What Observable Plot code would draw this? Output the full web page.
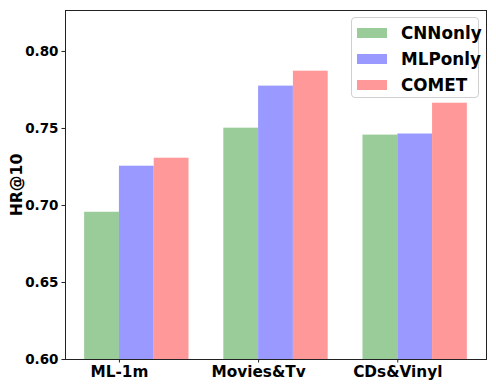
<!DOCTYPE html>
<html><head><meta charset="utf-8">
<script src="https://cdn.jsdelivr.net/npm/d3@7"></script>
<script src="https://cdn.jsdelivr.net/npm/@observablehq/plot@0.6"></script>
<style>
body{margin:0;background:#fff;}
#wrap{position:relative;width:496px;height:388px;font-family:"DejaVu Sans",sans-serif;}
#wrap svg{font-family:"DejaVu Sans",sans-serif;font-weight:bold;}
#wrap svg [aria-label="y-axis tick label"]{font-size:13.5px !important;font-weight:bold;}
#wrap svg [aria-label="x-axis tick label"]{font-size:15.3px !important;font-weight:bold;}
#wrap svg [aria-label="y-axis label"]{font-size:15.7px !important;font-weight:bold;}
.legend{position:absolute;left:351px;top:17px;width:126px;height:79px;border:1px solid #d0d0d0;border-radius:4px;background:rgba(255,255,255,0.8);}
.legend .row{position:absolute;left:5px;height:10px;}
.legend .sw{position:absolute;left:0;top:0;width:30px;height:10px;}
.legend .lb{position:absolute;left:44px;top:-8px;font-size:16.8px;font-weight:bold;color:#000;white-space:nowrap;line-height:26px;}
</style>
</head><body><div id="wrap"></div>
<script>
const categories = ["ML-1m", "Movies&Tv", "CDs&Vinyl"];
const seriesNames = ["CNNonly", "MLPonly", "COMET"];
const cnnOnly = [0.6956, 0.7502, 0.7457];
const mlpOnly = [0.7255, 0.7775, 0.7464];
const comet = [0.7307, 0.7872, 0.7664];
const seriesColors = ["#99cc99", "#9999ff", "#ff9999"];
const yTicks = [0.60, 0.65, 0.70, 0.75, 0.80];
const yDomain = [0.60, 0.8266];
const barWidth = 0.25;

const data = [];
[cnnOnly, mlpOnly, comet].forEach((vals, s) => {
  vals.forEach((v, i) => {
    const x1 = i + (s - 1.5) * barWidth;
    data.push({category: categories[i], series: seriesNames[s], x1, x2: x1 + barWidth, value: v});
  });
});
const tickPos = categories.map((c, i) => i - barWidth / 2);

const chart = Plot.plot({
  width: 496,
  height: 388,
  marginLeft: 65,
  marginRight: 10,
  marginTop: 10,
  marginBottom: 29,
  x: {domain: [-0.5125, 2.5125]},
  y: {domain: yDomain},
  color: {domain: seriesNames, range: seriesColors},
  marks: [
    Plot.rect(data, {x1: "x1", x2: "x2", y1: yDomain[0], y2: "value", fill: "series"}),
    Plot.frame({stroke: "#222", strokeWidth: 1}),
    Plot.axisY({ticks: yTicks, tickFormat: d3.format(".2f"), tickSize: 3.5, tickPadding: 3.5, fontSize: 13.5, fontWeight: "bold", stroke: "#222",
      label: "HR@10", labelAnchor: "center", labelArrow: "none", labelOffset: 55}),
    Plot.axisX({ticks: tickPos, tickFormat: d => categories[Math.round(d + barWidth / 2)], tickSize: 3.5, tickPadding: 3.5, fontSize: 15.3, fontWeight: "bold", stroke: "#222", label: null})
  ]
});
const wrap = document.getElementById("wrap");
wrap.appendChild(chart);

const legend = document.createElement("div");
legend.className = "legend";
seriesNames.forEach((name, s) => {
  const row = document.createElement("div");
  row.className = "row";
  row.style.top = (10 + s * 26) + "px";
  row.innerHTML = `<div class="sw" style="background:${seriesColors[s]}"></div><div class="lb">${name}</div>`;
  legend.appendChild(row);
});
wrap.appendChild(legend);
</script>
</body></html>
